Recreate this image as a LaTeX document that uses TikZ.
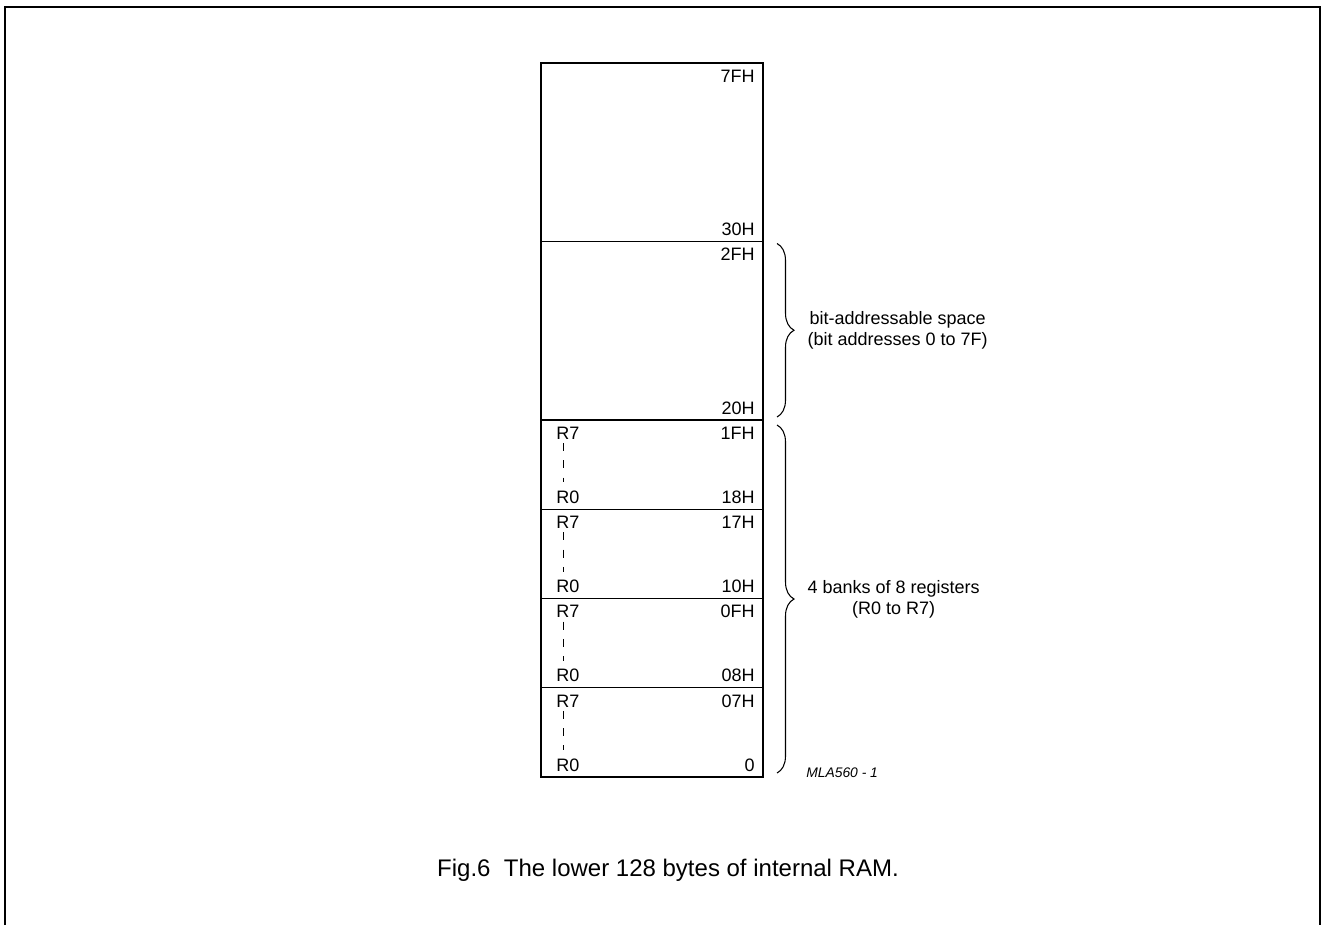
\documentclass[tikz,border=0pt]{standalone}
\usepackage{fontspec}
\setmainfont{Liberation Sans}
\usetikzlibrary{positioning, decorations.pathreplacing}

\begin{document}
\begin{tikzpicture}[
    x=0.75pt, y=-0.75pt,
    node distance=0pt,
    region/.style={draw, line width=0.8pt, minimum width=166.5pt, inner sep=0pt, outer sep=0pt},
    tall/.style={region, minimum height=133.875pt},
    bankbox/.style={region, minimum height=66.9375pt},
    addr/.style={font=\fontsize{13.5}{16}\selectfont, inner sep=0pt},
    regdash/.style={line width=0.6pt, dash pattern=on 6pt off 7pt},
    bracket/.style={decorate, decoration={brace, amplitude=12.75pt}, line width=0.8pt},
    bracelabel/.style={font=\fontsize{13.5}{15.75}\selectfont, align=center, anchor=west, inner sep=0pt}
]
    \useasboundingbox (0,0) rectangle (1326,925);

    % --- PAGE FRAME ---
    \draw[line width=1.5pt] (5,925) -- (5,6.5) -- (1320,6.5) -- (1320,925);

    % --- RAM REGIONS (stacked) ---
    \node[tall, anchor=north west] (free) at (541,63) {};
    \node[tall, below=of free, alias=bank4] (bitspace) {};

    \node[addr, anchor=base east] (hifree) at ([shift={(-6pt,-14.6pt)}]free.north east) {7FH};
    \node[addr, anchor=base east] (lofree) at ([shift={(-6pt,4.5pt)}]free.south east) {30H};
    \node[addr, anchor=base east] (hibit) at ([shift={(-6pt,-14.6pt)}]bitspace.north east) {2FH};
    \node[addr, anchor=base east] (lobit) at ([shift={(-6pt,4.5pt)}]bitspace.south east) {20H};

    % Register banks
    \foreach \b/\hi/\lo in {3/1FH/18H, 2/17H/10H, 1/0FH/08H, 0/07H/0} {
        \pgfmathtruncatemacro\prev{\b+1}
        \node[bankbox, below=of bank\prev] (bank\b) {};
        \node[addr, anchor=base east] (hi\b) at ([shift={(-6pt,-14.6pt)}]bank\b.north east) {\hi};
        \node[addr, anchor=base east] (lo\b) at ([shift={(-6pt,4.5pt)}]bank\b.south east) {\lo};
        \node[addr, anchor=base west] (rseven\b) at ([shift={(11.25pt,-14.6pt)}]bank\b.north west) {R7};
        \node[addr, anchor=base west] (rzero\b) at ([shift={(11.25pt,4.5pt)}]bank\b.south west) {R0};
        \draw[regdash] ([xshift=-3pt,yshift=-2.5pt]rseven\b.south) -- ([xshift=-3pt,yshift=6pt]rzero\b.north);
    }

    % --- BRACES & NOTES ---
    \draw[bracket] ([shift={(10.5pt,-1.5pt)}]bitspace.north east) -- ([shift={(10.5pt,2.25pt)}]bitspace.south east)
        node[bracelabel, midway, xshift=22.5pt] (bitnote) {bit-addressable space\\(bit addresses 0 to 7F)};
    \draw[bracket] ([shift={(10.5pt,-3.75pt)}]bank3.north east) -- ([shift={(10.5pt,3pt)}]bank0.south east)
        node[bracelabel, midway, xshift=22.5pt] (banknote) {4 banks of 8 registers\\(R0 to R7)};

    \node[font=\fontsize{10.4}{12}\selectfont\itshape, anchor=west, inner sep=0pt] (figcode) at (806,773) {MLA560 - 1};

    % --- CAPTION ---
    \node[font=\fontsize{18}{21}\selectfont, inner sep=0pt] (caption) at (668,870) {Fig.6\ \ The lower 128 bytes of internal RAM.};
\end{tikzpicture}
\end{document}
